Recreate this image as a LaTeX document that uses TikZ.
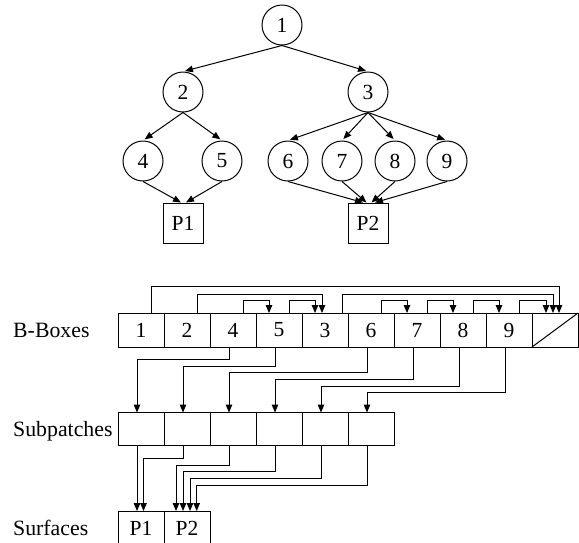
\documentclass[tikz,border=0pt]{standalone}
\usepackage{fontspec}
\setmainfont{Liberation Serif}
\usetikzlibrary{arrows.meta,calc}
\begin{document}
\begin{tikzpicture}[x=1pt,y=-1pt,
  line width=1pt,
  every node/.style={font=\fontsize{21.5}{21.5}\selectfont},
  tnode/.style={draw,circle,minimum size=40pt,inner sep=0pt},
  pbox/.style={draw,minimum size=40pt,inner sep=0pt},
  cell/.style={draw,minimum width=46pt,minimum height=34pt,inner sep=0pt,outer sep=0pt},
  subcell/.style={draw,minimum width=46pt,minimum height=33pt,inner sep=0pt,outer sep=0pt},
  rowlabel/.style={anchor=base west,inner sep=0pt,font=\fontsize{21.8}{21.8}\selectfont},
  arr/.style={-{Triangle[length=8pt,width=6.5pt]}},
  tarr/.style={arr,shorten >=2pt}
]
\useasboundingbox (0,0) rectangle (579,542);

% ---------- tree ----------
\node[tnode] (n1) at (282,25) {1};
\node[tnode] (n2) at (183,92) {2};
\node[tnode] (n3) at (368,92) {3};
\node[tnode] (n4) at (143,161) {4};
\node[tnode] (n5) at (222,161) {5};
\node[tnode] (n6) at (288,161) {6};
\node[tnode] (n7) at (342,161) {7};
\node[tnode] (n8) at (395,161) {8};
\node[tnode] (n9) at (447,161) {9};
\node[pbox] (P1) at (183,223) {P1};
\node[pbox] (P2) at (368,223) {P2};

\draw[tarr] (n1.south) -- (n2.north);
\draw[tarr] (n1.south) -- (n3.north);
\draw[tarr] (n2.south) -- (n4.north);
\draw[tarr] (n2.south) -- (n5.north);
\draw[tarr] (n3.south) -- (n6.north);
\draw[tarr] (n3.south) -- (n7.north);
\draw[tarr] (n3.south) -- (n8.north);
\draw[tarr] (n3.south) -- (n9.north);
\draw[arr] (n4.south) -- ($(P1.north)+(-2,0)$);
\draw[arr] (n5.south) -- ($(P1.north)+(3,0)$);
\draw[arr] (n6.south) -- ($(P2.north)+(-5,0)$);
\draw[arr] (n7.south) -- ($(P2.north)+(-1.5,0)$);
\draw[arr] (n8.south) -- ($(P2.north)+(3.5,0)$);
\draw[arr] (n9.south) -- ($(P2.north)+(7,0)$);

% ---------- B-Boxes ----------
\node[rowlabel] (lb) at (12.7,337.7) {B-Boxes};
\node[cell] (bb1) at (141,330) {1};
\node[cell] (bb2) at (187,330) {2};
\node[cell] (bb4) at (233,330) {4};
\node[cell] (bb5) at (279,330) {5};
\node[cell] (bb3) at (325,330) {3};
\node[cell] (bb6) at (371,330) {6};
\node[cell] (bb7) at (417,330) {7};
\node[cell] (bb8) at (463,330) {8};
\node[cell] (bb9) at (509,330) {9};
\node[cell] (bnil) at (555,330) {};
\draw (bnil.south west) -- (bnil.north east);

\draw[arr] ([xshift=10pt]bb1.north) -- ++(0,-26.3) -| ([xshift=4pt]bnil.north);
\draw[arr] ([xshift=10pt]bb2.north) -- ++(0,-19) -| ([xshift=-3pt]bb3.north);
\draw[arr] ([xshift=10pt]bb4.north) -- ++(0,-12.3) -| ([xshift=-10pt]bb5.north);
\draw[arr] ([xshift=10pt]bb5.north) -- ++(0,-12.3) -| ([xshift=-10pt]bb3.north);
\draw[arr] ([xshift=17pt]bb3.north) -- ++(0,-19) -| ([xshift=-2pt]bnil.north);
\draw[arr] ([xshift=10pt]bb6.north) -- ++(0,-12.3) -| ([xshift=-10pt]bb7.north);
\draw[arr] ([xshift=10pt]bb7.north) -- ++(0,-12.3) -| ([xshift=-10pt]bb8.north);
\draw[arr] ([xshift=10pt]bb8.north) -- ++(0,-12.3) -| ([xshift=-10pt]bb9.north);
\draw[arr] ([xshift=10pt]bb9.north) -- ++(0,-12.3) -| ([xshift=-9pt]bnil.north);

% ---------- Subpatches ----------
\node[rowlabel] (ls) at (12.7,436) {Subpatches};
\node[subcell] (s1) at (141,429) {};
\node[subcell] (s2) at (187,429) {};
\node[subcell] (s3) at (233,429) {};
\node[subcell] (s4) at (279,429) {};
\node[subcell] (s5) at (325,429) {};
\node[subcell] (s6) at (371,429) {};

\draw[arr] ([xshift=-4pt]bb4.south) -- ++(0,12.3) -| ([xshift=-4pt]s1.north);
\draw[arr] ([xshift=-4pt]bb5.south) -- ++(0,19) -| ([xshift=-4pt]s2.north);
\draw[arr] ([xshift=-4pt]bb6.south) -- ++(0,25.7) -| ([xshift=-4pt]s3.north);
\draw[arr] ([xshift=-4pt]bb7.south) -- ++(0,32.3) -| ([xshift=-4pt]s4.north);
\draw[arr] ([xshift=-4pt]bb8.south) -- ++(0,39) -| ([xshift=-4pt]s5.north);
\draw[arr] ([xshift=-4pt]bb9.south) -- ++(0,45.7) -| ([xshift=-4pt]s6.north);

% ---------- Surfaces ----------
\node[rowlabel] (lf) at (12.7,535) {Surfaces};
\node[cell] (f1) at (141,528) {P1};
\node[cell] (f2) at (187,528) {P2};

\draw[arr] ([xshift=-4pt]s1.south) -- ([xshift=-4pt]f1.north);
\draw[arr] ([xshift=-4pt]s2.south) -- ++(0,12.8) -| ([xshift=2.5pt]f1.north);
\draw[arr] ([xshift=-3.5pt]s3.south) -- ++(0,19.5) -| ([xshift=-11pt]f2.north);
\draw[arr] ([xshift=-3.5pt]s4.south) -- ++(0,26.2) -| ([xshift=-4pt]f2.north);
\draw[arr] ([xshift=-3.5pt]s5.south) -- ++(0,32.8) -| ([xshift=3pt]f2.north);
\draw[arr] ([xshift=-3.5pt]s6.south) -- ++(0,39.5) -| ([xshift=9.7pt]f2.north);
\end{tikzpicture}
\end{document}
